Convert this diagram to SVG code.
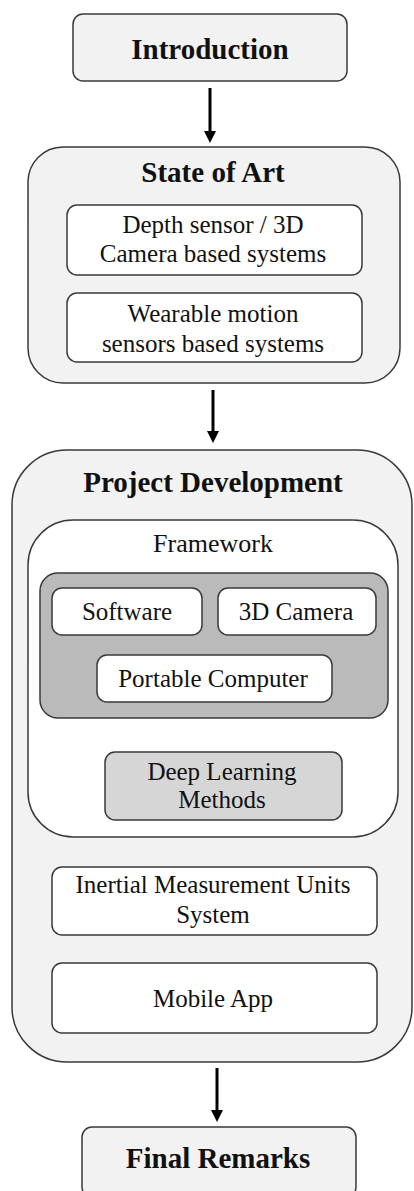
<svg xmlns="http://www.w3.org/2000/svg" width="414" height="1191" viewBox="0 0 414 1191">
<defs>
<style>
.box{fill:#f2f2f2;stroke:#3a3a3a;stroke-width:1.5}
.wbox{fill:#ffffff;stroke:#3a3a3a;stroke-width:1.5}
.gbox{fill:#bababa;stroke:#3a3a3a;stroke-width:1.5}
.lbox{fill:#d6d6d6;stroke:#3a3a3a;stroke-width:1.5}
text{font-family:'Liberation Serif','DejaVu Serif',serif;fill:#111;text-anchor:middle}
.t{font-size:25px}
.b{font-size:29px;font-weight:bold}
.c{stroke:#000;stroke-width:3;fill:none;marker-end:url(#ah)}
</style>
<marker id="ah" markerWidth="4" markerHeight="4" refX="2" refY="2" orient="auto" markerUnits="strokeWidth">
<path d="M0,0 L4,2 L0,4 z" fill="#000"/>
</marker>
</defs>
<rect x="0" y="0" width="414" height="1191" fill="#ffffff"/>
<g id="introduction">
<rect class="box" x="73" y="14" width="274" height="67" rx="10"/>
<text class="b" x="210" y="59">Introduction</text>
</g>
<g id="state-of-art">
<rect class="box" x="28" y="147" width="372" height="236" rx="35"/>
<text class="b" x="213" y="182">State of Art</text>
<g id="depth-sensor">
<rect class="wbox" x="67" y="205" width="295" height="70" rx="10"/>
<text class="t" x="213" y="233">Depth sensor / 3D</text>
<text class="t" x="213" y="262">Camera based systems</text>
</g>
<g id="wearable">
<rect class="wbox" x="67" y="293" width="295" height="69" rx="10"/>
<text class="t" x="213" y="322">Wearable motion</text>
<text class="t" x="213" y="352">sensors based systems</text>
</g>
</g>
<g id="project-development">
<rect class="box" x="12" y="450" width="400" height="612" rx="55"/>
<text class="b" x="213" y="492">Project Development</text>
<g id="framework">
<rect class="wbox" x="28" y="520" width="370" height="317" rx="45"/>
<text class="t" x="213" y="552" style="font-size:26px">Framework</text>
<g id="hardware-group">
<rect class="gbox" x="40" y="573" width="348" height="145" rx="18"/>
<g id="software">
<rect class="wbox" x="52" y="588" width="150" height="47" rx="10"/>
<text class="t" x="127" y="620">Software</text>
</g>
<g id="camera">
<rect class="wbox" x="218" y="588" width="158" height="47" rx="10"/>
<text class="t" x="296" y="620">3D Camera</text>
</g>
<g id="portable-computer">
<rect class="wbox" x="97" y="655" width="235" height="47" rx="10"/>
<text class="t" x="213" y="687">Portable Computer</text>
</g>
</g>
<g id="deep-learning">
<rect class="lbox" x="105" y="752" width="237" height="68" rx="10"/>
<text class="t" x="222" y="780">Deep Learning</text>
<text class="t" x="222" y="808">Methods</text>
</g>
</g>
<g id="imu">
<rect class="wbox" x="52" y="867" width="325" height="68" rx="10"/>
<text class="t" x="213" y="893">Inertial Measurement Units</text>
<text class="t" x="213" y="923">System</text>
</g>
<g id="mobile-app">
<rect class="wbox" x="52" y="963" width="325" height="70" rx="10"/>
<text class="t" x="213" y="1007">Mobile App</text>
</g>
</g>
<g id="final-remarks">
<rect class="box" x="82" y="1127" width="274" height="70" rx="10"/>
<text class="b" x="218" y="1168">Final Remarks</text>
</g>
<g id="connectors">
<line class="c" x1="210" y1="88" x2="210" y2="137"/>
<line class="c" x1="213" y1="390" x2="213" y2="437"/>
<line class="c" x1="217" y1="1068" x2="217" y2="1116"/>
</g>
</svg>
